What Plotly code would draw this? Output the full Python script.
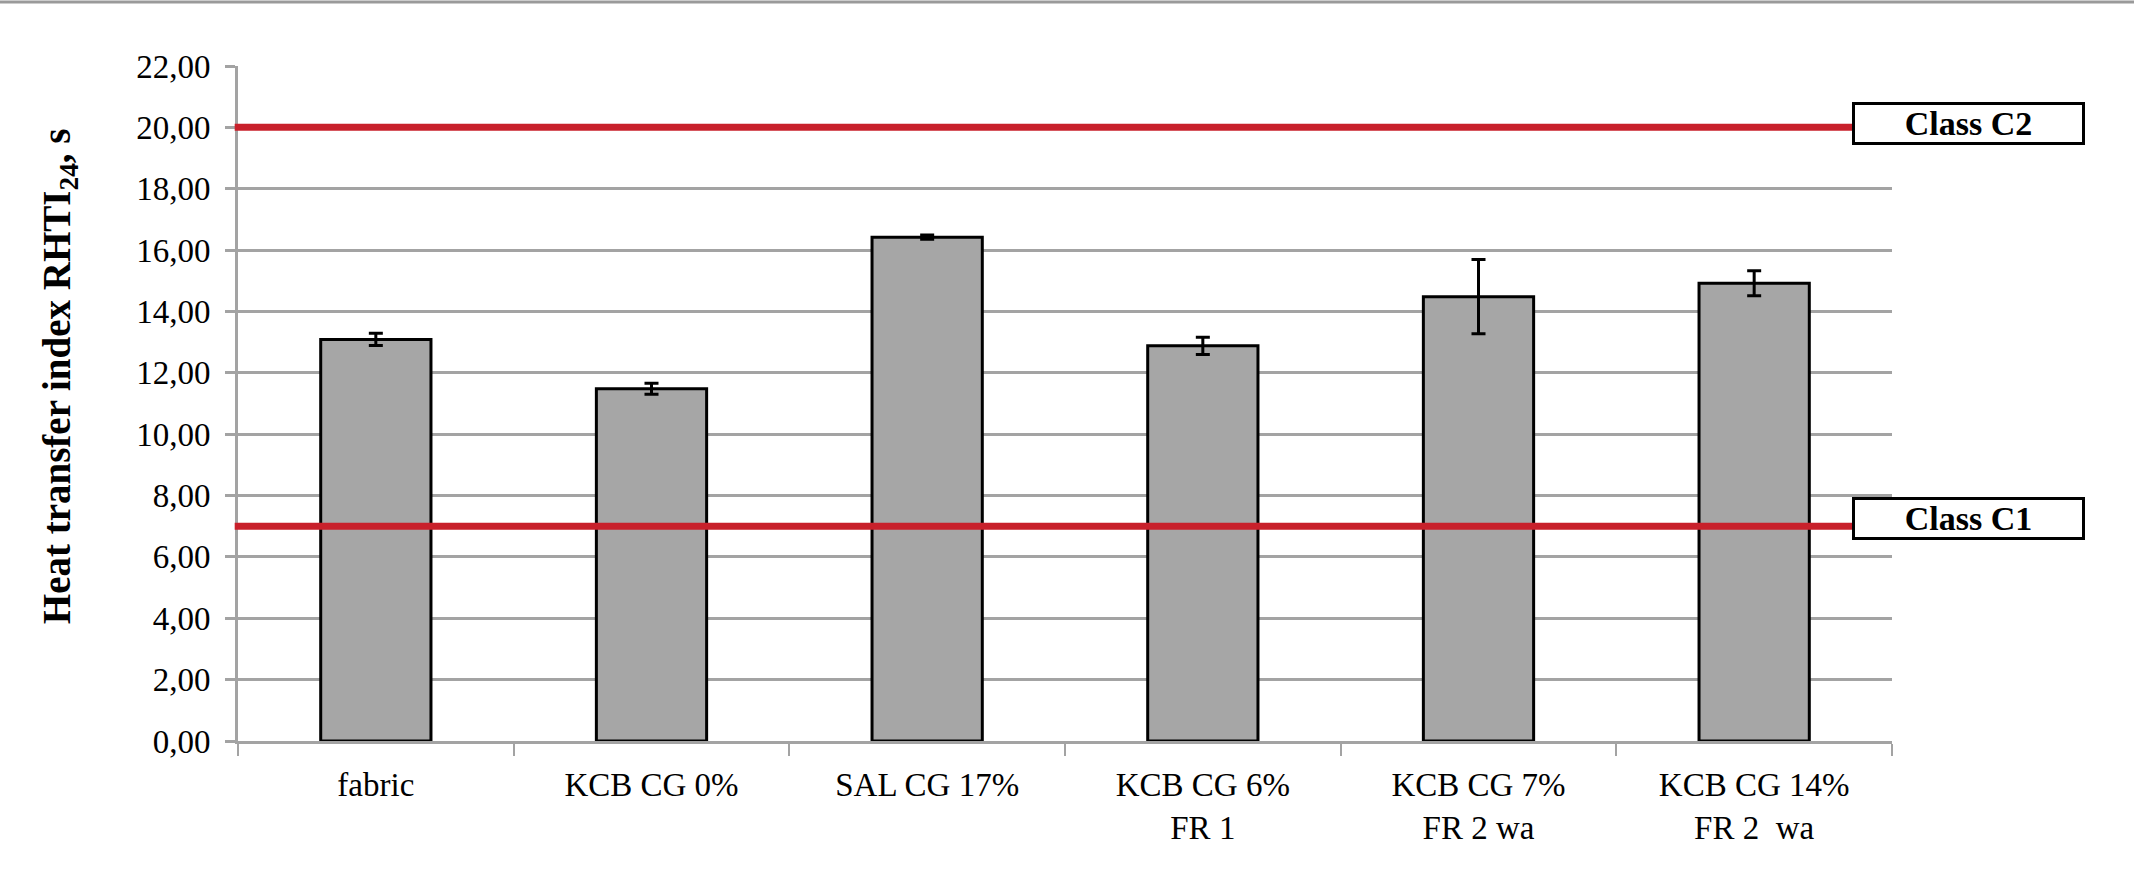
import plotly.graph_objects as go

# samples and measured RHTI24 (s), with std dev
samples = [
    "fabric",
    "KCB CG 0%",
    "SAL CG 17%",
    "KCB CG 6%<br>FR 1",
    "KCB CG 7%<br>FR 2 wa",
    "KCB CG 14%<br>FR 2\u00a0 wa",
]
rhti = [13.09, 11.48, 16.42, 12.88, 14.48, 14.92]
rhti_sd = [0.20, 0.18, 0.07, 0.28, 1.21, 0.41]

# protection class limits
class_names = ["Class C2", "Class C1"]
class_limits = [20.0, 7.0]

SERIF = "Liberation Serif"
GRID = "#a3a3a3"
RED = "#c8202b"

fig = go.Figure()

fig.add_trace(go.Bar(
    x=samples,
    y=rhti,
    marker=dict(color="#a6a6a6", line=dict(color="black", width=3)),
    error_y=dict(type="data", array=rhti_sd, color="black", thickness=3, width=7),
    width=0.4,
    showlegend=False,
))

for name, limit, shift in zip(class_names, class_limits, [4, 8]):
    fig.add_shape(
        type="line", xref="paper", yref="y",
        x0=-0.002, x1=0.976, y0=limit, y1=limit,
        line=dict(color=RED, width=7),
        layer="above",
    )
    fig.add_annotation(
        text="<b>%s</b>" % name,
        xref="paper", yref="y",
        x=1.0463, y=limit, yshift=shift,
        xanchor="center", yanchor="middle",
        showarrow=False,
        font=dict(family=SERIF, size=34, color="black"),
        bgcolor="white", bordercolor="black", borderwidth=3, borderpad=0,
        width=227, height=37,
    )

# y axis title
fig.add_annotation(
    text="<b>Heat transfer index RHTI<sub>24</sub>, s</b>",
    xref="paper", yref="paper",
    x=-0.108, y=0.541,
    xanchor="center", yanchor="middle",
    textangle=-90, showarrow=False,
    font=dict(family=SERIF, size=39, color="black"),
)

# thin rule along the top of the page
fig.add_shape(
    type="line", xref="paper", yref="paper",
    x0=-0.2, x1=1.2, y0=1.095, y1=1.095,
    line=dict(color="#9a9a9a", width=3),
)

fig.update_xaxes(
    showline=True, linecolor=GRID, linewidth=3,
    ticks="outside", tickson="boundaries", ticklen=12, tickcolor=GRID, tickwidth=2,
    ticklabelstandoff=12,
    tickfont=dict(family=SERIF, size=33, color="black"),
    showgrid=False,
)
fig.update_yaxes(
    range=[0, 22], dtick=2, tickformat=".2f",
    showline=True, linecolor=GRID, linewidth=3,
    ticks="outside", ticklen=10, tickcolor=GRID, tickwidth=3,
    ticklabelstandoff=8,
    showgrid=True, gridcolor=GRID, gridwidth=3,
    zeroline=False,
    tickfont=dict(family=SERIF, size=33, color="black"),
)

fig.update_layout(
    width=2134, height=877,
    margin=dict(l=238, r=242, t=66, b=136, autoexpand=False),
    paper_bgcolor="white", plot_bgcolor="white",
    separators=", ",
    bargap=0.6,
)

fig.write_html(
    "out.html",
    config={"displayModeBar": False},
    post_script="document.body.style.margin='0';",
)
